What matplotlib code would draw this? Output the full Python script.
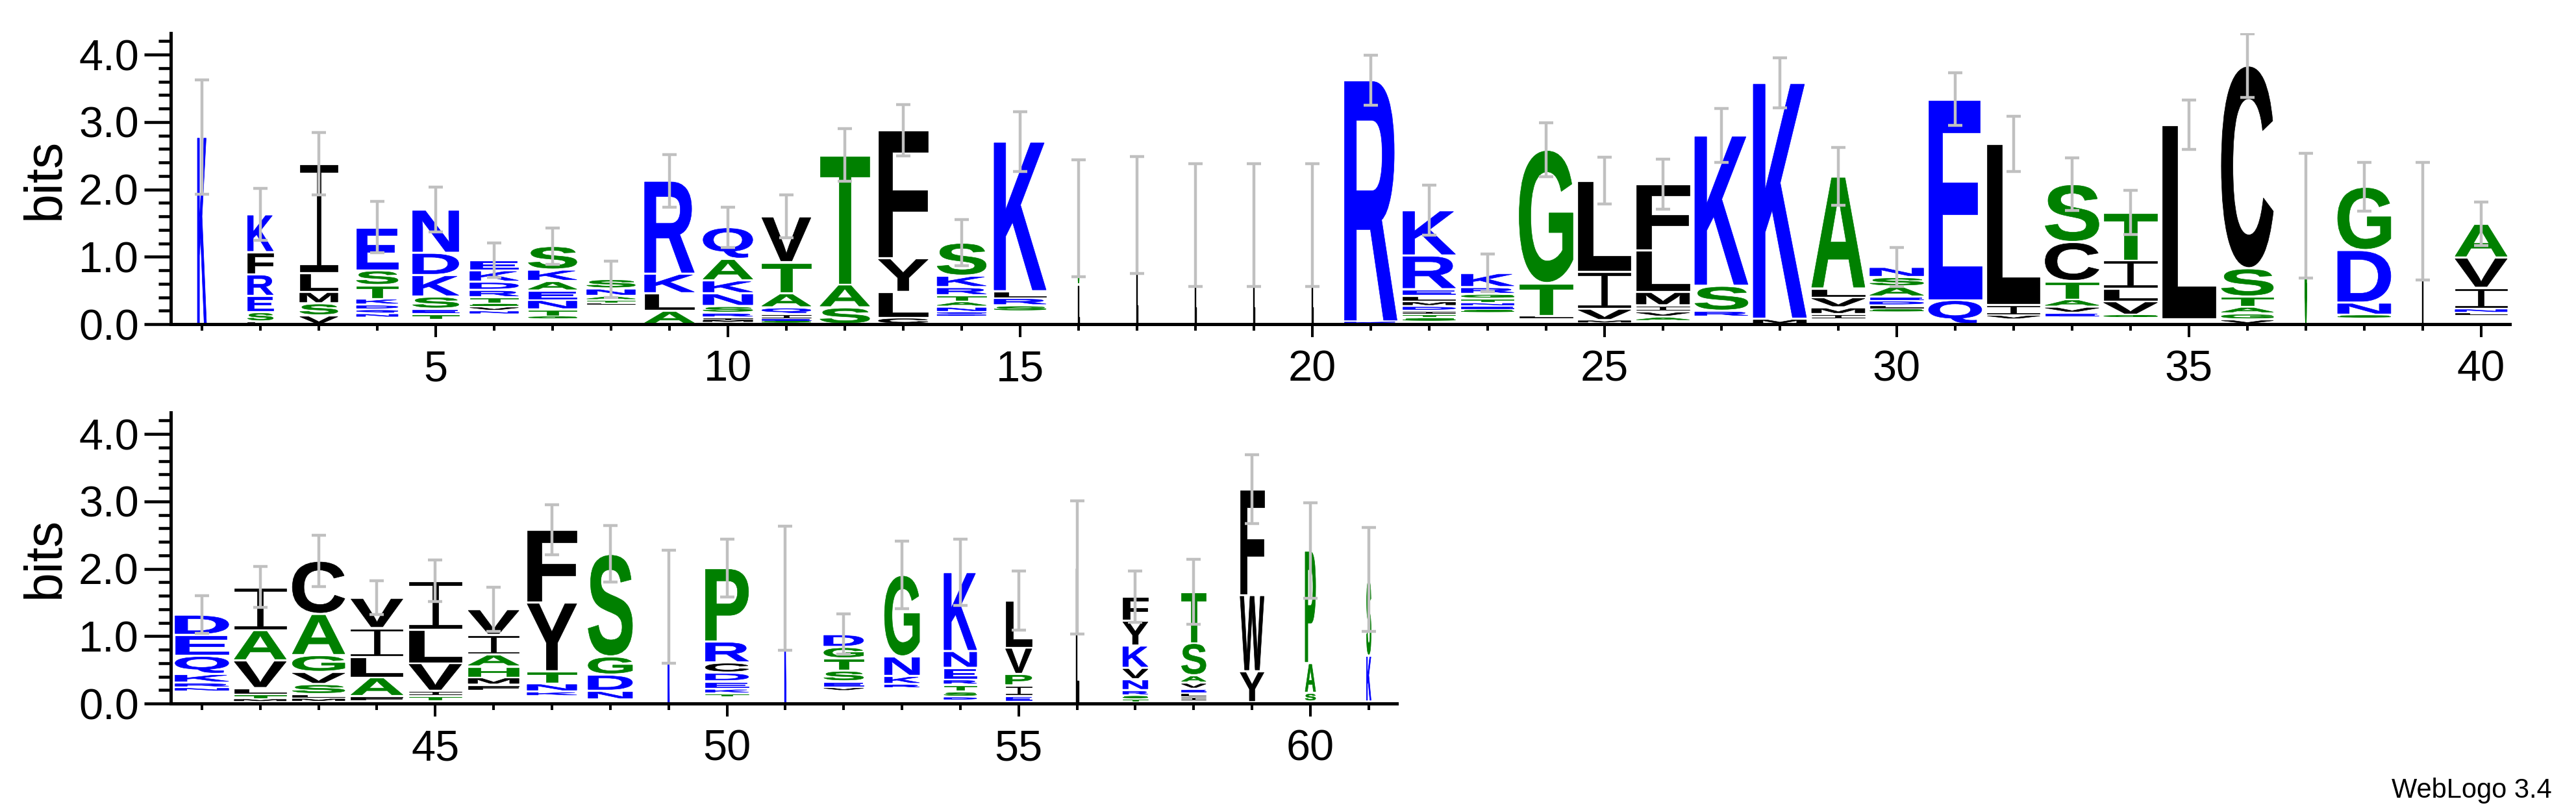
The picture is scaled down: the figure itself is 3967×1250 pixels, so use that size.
import numpy as np
import matplotlib
matplotlib.use("Agg")
import matplotlib.pyplot as plt
from matplotlib.textpath import TextPath
from matplotlib.font_manager import FontProperties
from matplotlib.patches import PathPatch
from matplotlib.path import Path
from matplotlib.transforms import Affine2D, Bbox

# ---------------- data (letters bottom -> top, '-' = empty space) ----------------
positions = list(range(1, 62))

stack_letters = [
    "K", "LSERFK", "VSMLI", "-NQDKTSE", "-TESKDN",              # 1-5
    "-NVSTRDKE", "-GTNEAKS", "-LTANS", "ALKR", "-MIRSNKAQ",     # 6-10
    "-SEIQATV", "SAT", "CLYF", "-DQNATRKS", "-SRLK",            # 11-15
    "LG", "L", "L", "L", "L",                                   # 16-20
    "KR", "-STIDMLERK", "-SENTGRK", "-LTG", "-MVIL",            # 21-25
    "-AVIMLF", "-RSK", "MK", "-IMVLA", "-SLDEASN",              # 26-30
    "QE", "-VIL", "-EVATCS", "-GVLIT", "-L",                    # 31-35
    "VGATSC", "G", "-SNDG", "L", "-LNIVA",                      # 36-40
    "-NRKQED", "-MTLVAI", "-MLSVGAC", "-FALIV", "-TIVLI",       # 41-45
    "-FMHAIV", "-KNTYF", "-NDGS", "K", "-TKEDCRP",              # 46-50
    "K", "-VESTGD", "-RKNG", "-DSTRENK", "-EIPVL",              # 51-55
    "L", "-TSRNVKYF", "-ILEVAST", "-YWF", "-SAP",               # 56-60
    "-KS",                                                      # 61
]

stack_heights = [
    [2.78], [0.04, 0.14, 0.24, 0.32, 0.33, 0.56], [0.13, 0.18, 0.17, 0.28, 1.62],
    [0.10, 0.06, 0.06, 0.07, 0.09, 0.20, 0.22, 0.64],
    [0.07, 0.08, 0.08, 0.18, 0.32, 0.33, 0.64],
    [0.15, 0.05, 0.06, 0.05, 0.09, 0.11, 0.12, 0.17, 0.15],
    [0.08, 0.04, 0.10, 0.14, 0.14, 0.14, 0.17, 0.35],
    [0.29, 0.03, 0.04, 0.06, 0.11, 0.14],
    [0.20, 0.26, 0.29, 1.38],
    [0.03, 0.03, 0.04, 0.07, 0.10, 0.19, 0.19, 0.32, 0.47],
    [0.02, 0.03, 0.03, 0.07, 0.10, 0.21, 0.46, 0.68],
    [0.25, 0.34, 1.92],
    [0.10, 0.38, 0.50, 1.90],
    [0.12, 0.03, 0.03, 0.08, 0.08, 0.09, 0.12, 0.17, 0.49],
    [0.19, 0.09, 0.11, 0.10, 2.22],
    [0.59, 0.98], [1.62], [1.47], [1.47], [1.47],
    [0.04, 3.58],
    [0.04, 0.06, 0.05, 0.05, 0.07, 0.07, 0.08, 0.10, 0.50, 0.67],
    [0.17, 0.05, 0.05, 0.05, 0.06, 0.07, 0.10, 0.21],
    [0.09, 0.04, 0.48, 1.98],
    [0.02, 0.04, 0.17, 0.55, 1.35],
    [0.05, 0.06, 0.08, 0.09, 0.20, 0.62, 0.98],
    [0.11, 0.09, 0.37, 2.23],
    [0.08, 3.50],
    [0.08, 0.07, 0.10, 0.15, 0.13, 1.66],
    [0.18, 0.05, 0.05, 0.07, 0.06, 0.15, 0.14, 0.15],
    [0.36, 2.98],
    [0.07, 0.07, 0.15, 2.39],
    [0.11, 0.06, 0.09, 0.11, 0.27, 0.58, 0.86],
    [0.10, 0.04, 0.20, 0.19, 0.42, 0.71],
    [0.08, 2.88],
    [0.07, 0.09, 0.10, 0.15, 0.42, 3.01],
    [1.61],
    [0.09, 0.05, 0.18, 0.78, 0.94],
    [1.53],
    [0.13, 0.04, 0.06, 0.31, 0.45, 0.50],
    [0.18, 0.06, 0.07, 0.13, 0.27, 0.31, 0.30],
    [0.03, 0.04, 0.07, 0.09, 0.41, 0.45, 0.64],
    [0.03, 0.05, 0.06, 0.15, 0.18, 0.25, 0.61, 0.79],
    [0.04, 0.07, 0.28, 0.30, 0.43, 0.45],
    [0.04, 0.08, 0.07, 0.41, 0.50, 0.72],
    [0.19, 0.09, 0.11, 0.16, 0.18, 0.29, 0.38],
    [0.11, 0.07, 0.12, 0.18, 1.02, 1.08],
    [0.06, 0.13, 0.24, 0.27, 1.52],
    [1.44],
    [0.10, 0.05, 0.07, 0.11, 0.13, 0.15, 0.31, 1.09],
    [1.71],
    [0.19, 0.05, 0.09, 0.16, 0.18, 0.17, 0.19],
    [0.23, 0.06, 0.12, 0.29, 1.21],
    [0.05, 0.05, 0.08, 0.10, 0.08, 0.17, 0.25, 1.17],
    [0.03, 0.09, 0.15, 0.17, 0.39, 0.70],
    [2.02],
    [0.03, 0.04, 0.05, 0.08, 0.16, 0.17, 0.33, 0.37, 0.36],
    [0.04, 0.06, 0.06, 0.06, 0.09, 0.11, 0.48, 0.76],
    [0.02, 0.46, 1.13, 1.57],
    [0.03, 0.13, 0.44, 1.67],
    [0.03, 0.68, 1.13],
]

# visible stack width (fraction of one position; narrow = many gaps)
column_widths = [
    0.155, 0.44, 0.65, 0.71, 0.79, 0.83, 0.83, 0.83, 0.85, 0.85,
    0.84, 0.85, 0.85, 0.84, 0.89, 0.02, 0.015, 0.015, 0.015, 0.015,
    0.90, 0.90, 0.90, 0.92, 0.90, 0.91, 0.91, 0.91, 0.91, 0.92,
    0.91, 0.90, 0.92, 0.92, 0.91, 0.89, 0.025, 0.91, 0.012, 0.89,
    0.92, 0.89, 0.90, 0.89, 0.90, 0.87, 0.85, 0.76, 0.02, 0.74,
    0.02, 0.68, 0.60, 0.56, 0.45, 0.045, 0.43, 0.42, 0.41, 0.18,
    0.08,
]

# half length of the error bars (bits)
error_half = [
    0.85, 0.39, 0.46, 0.38, 0.33, 0.26, 0.27, 0.27, 0.39, 0.30,
    0.32, 0.39, 0.38, 0.34, 0.44, 0.87, 0.87, 0.91, 0.91, 0.91,
    0.37, 0.37, 0.28, 0.40, 0.35, 0.37, 0.40, 0.37, 0.43, 0.29,
    0.39, 0.41, 0.39, 0.33, 0.37, 0.47, 0.93, 0.36, 0.87, 0.32,
    0.28, 0.30, 0.38, 0.25, 0.31, 0.33, 0.37, 0.42, 0.84, 0.43,
    0.92, 0.30, 0.50, 0.49, 0.44, 0.99, 0.38, 0.48, 0.51, 0.71,
    0.77,
]

top_major_ticks = [5, 10, 15, 20, 25, 30, 35, 40]
bottom_major_ticks = [45, 50, 55, 60]
y_major_ticks = [0.0, 1.0, 2.0, 3.0, 4.0]
y_tick_labels = ["0.0", "1.0", "2.0", "3.0", "4.0"]

# hydrophobicity colour scheme
BLUE, GREEN, BLACK = "#0000ff", "#008000", "#000000"
color_scheme = {}
for c in "RKDENQ":
    color_scheme[c] = BLUE
for c in "SGHTAP":
    color_scheme[c] = GREEN
for c in "YVMCLFIW":
    color_scheme[c] = BLACK

# ---------------- drawing ----------------
W_PX, H_PX, DPI = 3967, 1250, 100
fig = plt.figure(figsize=(W_PX / DPI, H_PX / DPI), dpi=DPI)
fig.patch.set_facecolor("white")

FP_MAIN = FontProperties(family="Liberation Sans", weight="bold")
_glyphs = {}


def serif_I():
    # WebLogo-style "I" with thin bars top and bottom
    b, s = 0.065, 0.055
    verts = [(0, 0), (1, 0), (1, b), (0.5 + s, b), (0.5 + s, 1 - b), (1, 1 - b),
             (1, 1), (0, 1), (0, 1 - b), (0.5 - s, 1 - b), (0.5 - s, b), (0, b),
             (0, 0)]
    codes = [Path.MOVETO] + [Path.LINETO] * 11 + [Path.CLOSEPOLY]
    return Path(verts, codes), Bbox([[0, 0], [1, 1]])


def glyph(letter):
    if letter not in _glyphs:
        if letter == "I":
            _glyphs[letter] = serif_I()
        else:
            p = TextPath((0, 0), letter, size=100, prop=FP_MAIN)
            _glyphs[letter] = (p, p.get_extents())
    return _glyphs[letter]


def draw_letter(ax, letter, xc, y0, w, h):
    p, ext = glyph(letter)
    pad = 0.038 if h > 0.076 else h * 0.5
    gh = h - pad
    tr = (Affine2D().translate(-ext.x0, -ext.y0)
          .scale(w / ext.width, gh / ext.height)
          .translate(xc - w / 2, y0 + pad / 2)) + ax.transData
    col = color_scheme[letter]
    lw = 1.0 if w < 0.05 else 0.5
    ax.add_patch(PathPatch(p, transform=tr, facecolor=col, edgecolor=col,
                           lw=lw, zorder=2))


def setup_axes(ax, xmin, xmax, majors, minors):
    ax.set_xlim(xmin, xmax)
    ax.set_ylim(0, 4.32)
    for s in ["top", "right"]:
        ax.spines[s].set_visible(False)
    for s in ["left", "bottom"]:
        ax.spines[s].set_linewidth(3.6)
    ax.set_xticks(majors)
    ax.set_xticklabels([str(m) for m in majors])
    ax.set_xticks(minors, minor=True)
    ax.set_yticks(y_major_ticks)
    ax.set_yticklabels(y_tick_labels)
    ax.set_yticks(np.arange(0, 4.3, 0.2), minor=True)
    ax.tick_params(axis="x", which="major", length=14.4, width=2.9, pad=14,
                   labelsize=48)
    ax.tick_params(axis="x", which="minor", length=7.2, width=2.9)
    ax.tick_params(axis="y", which="major", length=29.5, width=3.3, pad=5.8,
                   labelsize=48)
    ax.tick_params(axis="y", which="minor", length=13.7, width=3.3)
    for lab in ax.get_xticklabels() + ax.get_yticklabels():
        lab.set_family("Liberation Sans")
    ax.patch.set_alpha(0)


def draw_panel(ax, pos_range):
    xs, tops, errs = [], [], []
    for p in pos_range:
        i = p - 1
        y = 0.0
        w = column_widths[i]
        for letter, h in zip(stack_letters[i], stack_heights[i]):
            if letter != "-":
                draw_letter(ax, letter, p, y, w, h)
            y += h
        xs.append(p)
        tops.append(y)
        errs.append(error_half[i])
    ax.errorbar(xs, tops, yerr=errs, fmt="none", ecolor="#c0c0c0",
                elinewidth=3.2, capsize=7.6, capthick=3.2, zorder=5)


ax_top = fig.add_axes([263 / W_PX, 751 / H_PX, 3602 / W_PX, 448 / H_PX])
setup_axes(ax_top, 0.4667, 40.49, top_major_ticks, positions[:40])
draw_panel(ax_top, positions[:40])

ax_bot = fig.add_axes([263 / W_PX, 167 / H_PX, 1888 / W_PX, 448 / H_PX])
setup_axes(ax_bot, 40.4667, 61.48, bottom_major_ticks, positions[40:])
draw_panel(ax_bot, positions[40:])

for yc in (275, 858):
    fig.text(70 / W_PX, 1 - yc / H_PX, "bits", rotation=90, ha="center",
             va="center", fontsize=58, family="Liberation Sans")

fig.text(3930 / W_PX, 1 - 1228 / H_PX, "WebLogo 3.4", ha="right",
         va="baseline", fontsize=30, family="Liberation Sans")

fig.savefig("out.png", dpi=DPI, facecolor="white")
